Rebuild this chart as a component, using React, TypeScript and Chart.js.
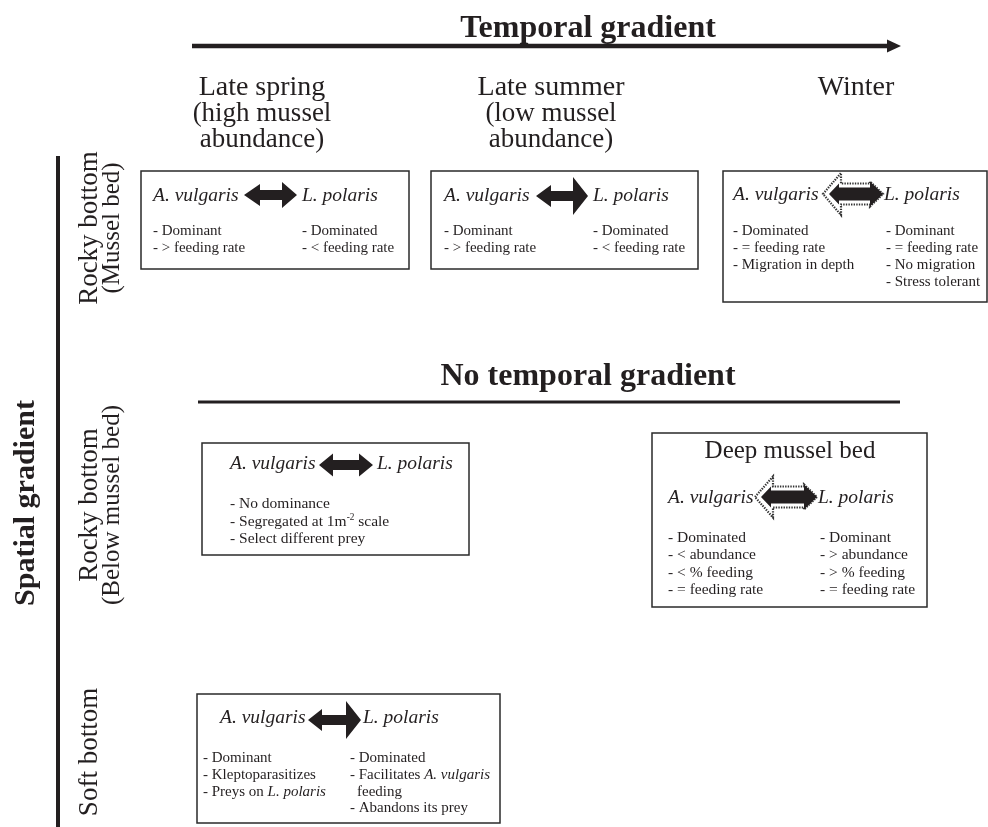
import React, { useEffect, useRef } from "react";
import { Chart, registerables } from "chart.js";

Chart.register(...registerables);

// ---------------- content (data) ----------------
const TITLE_TEMPORAL = "Temporal gradient";
const TITLE_NO_TEMPORAL = "No temporal gradient";
const TITLE_SPATIAL = "Spatial gradient";

const SEASONS: string[][] = [
  ["Late spring", "(high mussel", "abundance)"],
  ["Late summer", "(low mussel", "abundance)"],
  ["Winter"],
];

const HABITATS: string[][] = [
  ["Rocky bottom", "(Mussel bed)"],
  ["Rocky bottom", "(Below mussel bed)"],
  ["Soft bottom"],
];

const SPECIES = ["A. vulgaris", "L. polaris"];

const BOX_HEADERS = ["", "", "", "", "Deep mussel bed", ""];

const VULGARIS_TRAITS: string[][] = [
  ["- Dominant", "- > feeding rate"],
  ["- Dominant", "- > feeding rate"],
  ["- Dominated", "- = feeding rate", "- Migration in depth"],
  ["- No dominance", "- Segregated at 1m^{-2} scale", "- Select different prey"],
  ["- Dominated", "- < abundance", "- < % feeding", "- = feeding rate"],
  ["- Dominant", "- Kleptoparasitizes", "- Preys on *L. polaris*"],
];

const POLARIS_TRAITS: string[][] = [
  ["- Dominated", "- < feeding rate"],
  ["- Dominated", "- < feeding rate"],
  ["- Dominant", "- = feeding rate", "- No migration", "- Stress tolerant"],
  [],
  ["- Dominant", "- > abundance", "- > % feeding", "- = feeding rate"],
  ["- Dominated", "- Facilitates *A. vulgaris*", "\tfeeding", "- Abandons its prey"],
];

// interaction type of each box arrow
const ARROW_STYLE = ["solid", "solid", "dotted", "solid", "dotted", "solid"];

// ---------------- layout (positions / sizes / styles) ----------------
const W = 988;
const H = 827;
const SERIF = '"Liberation Serif", "DejaVu Serif", serif';
const INK = "#231f20";

const TOP = {
  titleX: 588, titleY: 37, titleSize: 32,
  arrowX0: 192, arrowX1: 901, arrowY: 46,
  seasonX: [262, 551, 856], seasonY: 95, seasonLH: 26, seasonSize: 28,
  noTitleY: 385, lineX0: 198, lineX1: 900, lineY: 402,
};

const SIDE = {
  lineX: 58, lineY0: 156, lineY1: 827,
  titleBase: 34, titleCY: 503, titleSize: 30,
  habCY: [228, 505, 752], habBase: [97, 119], habSize: 27,
};

type Box = {
  r: [number, number, number, number];
  spY: number; vx: number; px: number;
  ax: [number, number, number];
  head: [number, number, number, number, number]; // leftHalfH, leftLen, rightHalfH, rightLen, shaftHalf
  inner?: [number, number, number, number, number];
  ty: number; lh: number; lx: number; rx: number; fs: number; ss: number;
  hx?: number; hy?: number;
};

const BOXES: Box[] = [
  { r: [141, 171, 409, 269], spY: 201, vx: 153, px: 302, ax: [244, 297, 195], head: [11, 16, 13, 15, 5], ty: 235, lh: 17, lx: 153, rx: 302, fs: 15, ss: 19.5 },
  { r: [431, 171, 698, 269], spY: 201, vx: 444, px: 593, ax: [536, 588, 196], head: [11, 15, 19, 15, 5], ty: 235, lh: 17, lx: 444, rx: 593, fs: 15, ss: 19.5 },
  { r: [723, 171, 987, 302], spY: 200, vx: 733, px: 884, ax: [823, 883, 194], head: [21, 18, 12.5, 13, 10.5], inner: [10.5, 10, 12.5, 13, 6.5], ty: 235, lh: 17, lx: 733, rx: 886, fs: 15, ss: 19.5 },
  { r: [202, 443, 469, 555], spY: 469, vx: 230, px: 377, ax: [319, 373, 465], head: [11.5, 14, 11.5, 14, 5], ty: 508, lh: 17.5, lx: 230, rx: 0, fs: 15.5, ss: 19.5 },
  { r: [652, 433, 927, 607], spY: 503, vx: 668, px: 818, ax: [755, 817, 497], head: [20.5, 18, 12.5, 13, 10.5], inner: [10.5, 10, 12.5, 13, 6.5], ty: 542, lh: 17.4, lx: 668, rx: 820, fs: 15.5, ss: 19.5, hx: 790, hy: 458 },
  { r: [197, 694, 500, 823], spY: 723, vx: 220, px: 363, ax: [308, 361, 720], head: [11, 14, 19, 15, 5], ty: 762, lh: 16.8, lx: 203, rx: 350, fs: 15, ss: 19.5 },
];

// ---------------- drawing helpers ----------------
function drawRich(ctx: CanvasRenderingContext2D, text: string, x: number, y: number, size: number) {
  let cx = x;
  let t = text;
  if (t.startsWith("\t")) { cx += 7; t = t.slice(1); }
  const parts = t.split(/(\*[^*]+\*|\^\{[^}]+\})/).filter((p) => p.length);
  for (const p of parts) {
    if (p.startsWith("*")) {
      ctx.font = `italic ${size}px ${SERIF}`;
      const s = p.slice(1, -1);
      ctx.fillText(s, cx, y);
      cx += ctx.measureText(s).width;
    } else if (p.startsWith("^{")) {
      const s = p.slice(2, -1);
      ctx.font = `${size * 0.6}px ${SERIF}`;
      ctx.fillText(s, cx, y - size * 0.38);
      cx += ctx.measureText(s).width;
    } else {
      ctx.font = `${size}px ${SERIF}`;
      ctx.fillText(p, cx, y);
      cx += ctx.measureText(p).width;
    }
  }
}

function arrowPath(ctx: CanvasRenderingContext2D, xL: number, xR: number, y: number, h: number[]) {
  const [lh, ll, rh, rl, sh] = h;
  ctx.beginPath();
  ctx.moveTo(xL, y);
  ctx.lineTo(xL + ll, y - lh);
  ctx.lineTo(xL + ll, y - sh);
  ctx.lineTo(xR - rl, y - sh);
  ctx.lineTo(xR - rl, y - rh);
  ctx.lineTo(xR, y);
  ctx.lineTo(xR - rl, y + rh);
  ctx.lineTo(xR - rl, y + sh);
  ctx.lineTo(xL + ll, y + sh);
  ctx.lineTo(xL + ll, y + lh);
  ctx.closePath();
}

const diagramPlugin = {
  id: "diagram",
  afterDraw(chart: any) {
    const ctx: CanvasRenderingContext2D = chart.ctx;
    const xs = chart.scales.x;
    const ys = chart.scales.y;
    const X = (v: number) => xs.getPixelForValue(v);
    const Y = (v: number) => ys.getPixelForValue(v);
    ctx.save();
    ctx.fillStyle = "#ffffff";
    ctx.fillRect(0, 0, chart.width, chart.height);
    ctx.fillStyle = INK;
    ctx.strokeStyle = INK;
    ctx.textBaseline = "alphabetic";

    // Temporal gradient title + arrow
    ctx.textAlign = "center";
    ctx.font = `bold ${TOP.titleSize}px ${SERIF}`;
    ctx.fillText(TITLE_TEMPORAL, X(TOP.titleX), Y(TOP.titleY));
    ctx.lineWidth = 4.5;
    ctx.beginPath();
    ctx.moveTo(X(TOP.arrowX0), Y(TOP.arrowY));
    ctx.lineTo(X(TOP.arrowX1 - 10), Y(TOP.arrowY));
    ctx.stroke();
    ctx.beginPath();
    ctx.moveTo(X(TOP.arrowX1), Y(TOP.arrowY));
    ctx.lineTo(X(TOP.arrowX1 - 14), Y(TOP.arrowY - 6.5));
    ctx.lineTo(X(TOP.arrowX1 - 14), Y(TOP.arrowY + 6.5));
    ctx.closePath();
    ctx.fill();

    // seasons
    SEASONS.forEach((lines, i) => {
      lines.forEach((l, j) => {
        ctx.font = `${j === 0 ? TOP.seasonSize : TOP.seasonSize - 1}px ${SERIF}`;
        ctx.fillText(l, X(TOP.seasonX[i]), Y(TOP.seasonY + j * TOP.seasonLH));
      });
    });

    // No temporal gradient
    ctx.font = `bold ${TOP.titleSize}px ${SERIF}`;
    ctx.fillText(TITLE_NO_TEMPORAL, X(TOP.titleX), Y(TOP.noTitleY));
    ctx.lineWidth = 3;
    ctx.beginPath();
    ctx.moveTo(X(TOP.lineX0), Y(TOP.lineY));
    ctx.lineTo(X(TOP.lineX1), Y(TOP.lineY));
    ctx.stroke();

    // Spatial gradient axis
    ctx.lineWidth = 4;
    ctx.beginPath();
    ctx.moveTo(X(SIDE.lineX), Y(SIDE.lineY0));
    ctx.lineTo(X(SIDE.lineX), Y(SIDE.lineY1));
    ctx.stroke();
    const rot = (text: string, bx: number, cy: number, font: string) => {
      ctx.save();
      ctx.translate(X(bx), Y(cy));
      ctx.rotate(-Math.PI / 2);
      ctx.font = font;
      ctx.textAlign = "center";
      ctx.fillText(text, 0, 0);
      ctx.restore();
    };
    rot(TITLE_SPATIAL, SIDE.titleBase, SIDE.titleCY, `bold ${SIDE.titleSize}px ${SERIF}`);
    HABITATS.forEach((lines, i) => {
      lines.forEach((l, j) => {
        rot(l, SIDE.habBase[j], SIDE.habCY[i], `${j === 0 ? SIDE.habSize : SIDE.habSize - 2}px ${SERIF}`);
      });
    });

    // boxes
    BOXES.forEach((b, i) => {
      const [x0, y0, x1, y1] = b.r;
      ctx.lineWidth = 1.5;
      ctx.strokeStyle = "#2a2a2a";
      ctx.strokeRect(X(x0), Y(y0), X(x1) - X(x0), Y(y1) - Y(y0));
      ctx.strokeStyle = INK;
      ctx.textAlign = "left";

      if (BOX_HEADERS[i] && b.hx !== undefined && b.hy !== undefined) {
        ctx.textAlign = "center";
        ctx.font = `25px ${SERIF}`;
        ctx.fillText(BOX_HEADERS[i], X(b.hx), Y(b.hy));
        ctx.textAlign = "left";
      }

      ctx.font = `italic ${b.ss}px ${SERIF}`;
      ctx.fillText(SPECIES[0], X(b.vx), Y(b.spY));
      ctx.fillText(SPECIES[1], X(b.px), Y(b.spY));

      const [ax0, ax1, ay] = b.ax;
      if (ARROW_STYLE[i] === "dotted" && b.inner) {
        ctx.save();
        arrowPath(ctx, X(ax0), X(ax1), Y(ay), b.head);
        ctx.fillStyle = "#ffffff";
        ctx.fill();
        ctx.setLineDash([1.4, 1.2]);
        ctx.lineWidth = 2.2;
        ctx.strokeStyle = "#333";
        ctx.stroke();
        ctx.restore();
        arrowPath(ctx, X(ax0 + 6), X(ax1), Y(ay), b.inner);
        ctx.fillStyle = INK;
        ctx.fill();
      } else {
        arrowPath(ctx, X(ax0), X(ax1), Y(ay), b.head);
        ctx.fillStyle = INK;
        ctx.fill();
      }

      ctx.fillStyle = INK;
      VULGARIS_TRAITS[i].forEach((l, j) => drawRich(ctx, l, X(b.lx), Y(b.ty + j * b.lh), b.fs));
      POLARIS_TRAITS[i].forEach((l, j) => drawRich(ctx, l, X(b.rx), Y(b.ty + j * b.lh), b.fs));
    });

    ctx.restore();
  },
};

export default function App() {
  const ref = useRef<HTMLCanvasElement | null>(null);
  useEffect(() => {
    if (!ref.current) return;
    const chart = new Chart(ref.current, {
      type: "scatter",
      data: { datasets: [{ data: [], pointRadius: 0 }] },
      options: {
        animation: false,
        responsive: false,
        devicePixelRatio: 1,
        layout: { padding: 0 },
        plugins: { legend: { display: false }, tooltip: { enabled: false } },
        scales: {
          x: { type: "linear", min: 0, max: W, display: false },
          y: { type: "linear", min: 0, max: H, reverse: true, display: false },
        },
      },
      plugins: [diagramPlugin],
    });
    return () => chart.destroy();
  }, []);
  return (
    <div style={{ position: "absolute", left: 0, top: 0, width: W, height: H, background: "#fff" }}>
      <canvas ref={ref} width={W} height={H} style={{ display: "block", width: W, height: H }} />
    </div>
  );
}
